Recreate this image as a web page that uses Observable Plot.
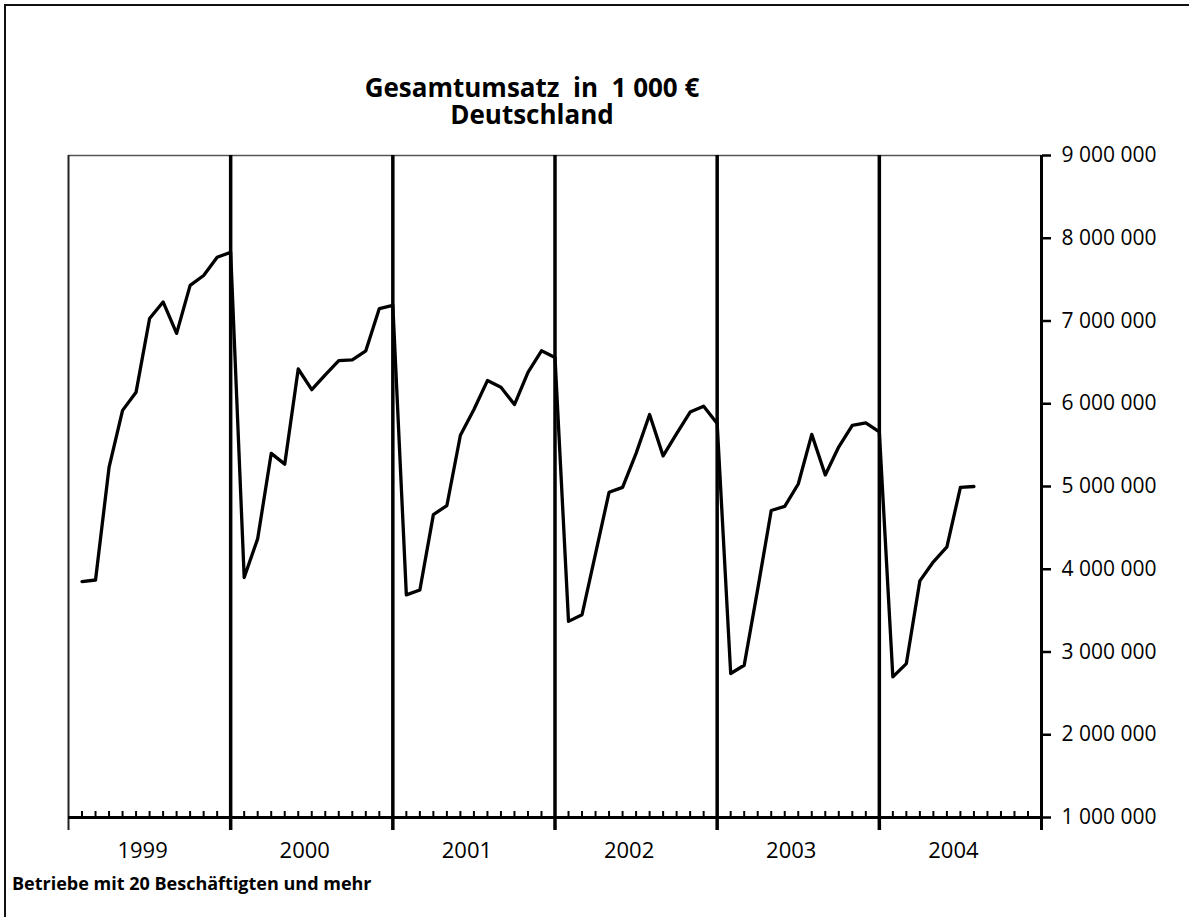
<!DOCTYPE html>
<html>
<head>
<meta charset="utf-8">
<script src="https://cdn.jsdelivr.net/npm/d3@7"></script>
<script src="https://cdn.jsdelivr.net/npm/@observablehq/plot@0.6"></script>
<style>
  body { margin: 0; background: #fff; }
  #wrap { position: relative; width: 1192px; height: 917px; overflow: hidden; font-family: "Open Sans", sans-serif; color: #000; }
  #frame { position: absolute; left: 4px; top: 4px; width: 1183px; height: 940px; border-left: 2px solid #111; border-top: 2px solid #111; }
  #title { position: absolute; left: 0; width: 1064px; top: 74px; text-align: center; font-weight: bold; font-size: 26px; line-height: 27px; white-space: pre; }
  #chart { position: absolute; left: 0; top: 140px; }
  #foot { position: absolute; left: 12px; top: 871px; font-weight: bold; font-size: 18px; line-height: 24px; }
</style>
</head>
<body>
<div id="wrap">
  <div id="frame"></div>
  <div id="title">Gesamtumsatz  in  1 000 €
Deutschland</div>
  <div id="chart"></div>
  <div id="foot">Betriebe mit 20 Beschäftigten und mehr</div>
</div>
<script>
// Gesamtumsatz in 1 000 € (monthly), Betriebe mit 20 Beschäftigten und mehr
const years = [1999, 2000, 2001, 2002, 2003, 2004];
const v1999 = [3850000, 3870000, 5230000, 5920000, 6140000, 7030000, 7230000, 6850000, 7430000, 7550000, 7770000, 7830000];
const v2000 = [3900000, 4370000, 5400000, 5270000, 6420000, 6170000, 6350000, 6520000, 6530000, 6640000, 7150000, 7190000];
const v2001 = [3690000, 3750000, 4660000, 4770000, 5620000, 5930000, 6280000, 6200000, 5990000, 6380000, 6640000, 6560000];
const v2002 = [3370000, 3450000, 4190000, 4930000, 4990000, 5400000, 5870000, 5370000, 5640000, 5900000, 5970000, 5760000];
const v2003 = [2740000, 2840000, 3760000, 4710000, 4760000, 5030000, 5630000, 5140000, 5480000, 5740000, 5770000, 5660000];
const v2004 = [2700000, 2860000, 3860000, 4090000, 4270000, 4990000, 5000000];
const yTicks = [1000000, 2000000, 3000000, 4000000, 5000000, 6000000, 7000000, 8000000, 9000000];

const series = [v1999, v2000, v2001, v2002, v2003, v2004];
const data = series.flatMap((vals, yi) => vals.map((v, mi) => ({ year: years[yi], month: mi + 1, m: yi * 12 + mi, v })));

const nMonths = years.length * 12;
const leftEdge = -1;
const rightEdge = nMonths - 1;
const dividers = years.slice(0, -1).map((_, i) => i * 12 + 11);
const minor = d3.range(0, nMonths - 1).filter(m => !dividers.includes(m));
const yearPos = years.map((y, i) => ({ year: String(y), m: i * 12 + 5 }));
const fmt = d => d3.format(",")(d).replace(/,/g, " ");

const chart = Plot.plot({
  width: 1192,
  height: 730,
  marginLeft: 68,
  marginRight: 151,
  marginTop: 15,
  marginBottom: 53,
  style: { fontFamily: "Open Sans, sans-serif", fontSize: "21px", background: "transparent", overflow: "visible", color: "#000" },
  x: { domain: [leftEdge, rightEdge], axis: null },
  y: { domain: [yTicks[0], yTicks[yTicks.length - 1]], axis: null },
  marks: [
    Plot.ruleY([yTicks[yTicks.length - 1]], { stroke: "#555", strokeWidth: 1.5 }),
    Plot.ruleX([leftEdge], { stroke: "#222", strokeWidth: 2, insetBottom: -13 }),
    Plot.ruleX(minor, { x: d => d, y1: yTicks[0], y2: yTicks[0], insetTop: -6, stroke: "#000", strokeWidth: 2 }),
    Plot.ruleX(dividers, { stroke: "#000", strokeWidth: 3.5, insetBottom: -13 }),
    Plot.ruleX([rightEdge], { stroke: "#000", strokeWidth: 3, insetBottom: -13 }),
    Plot.ruleY([yTicks[0]], { stroke: "#000", strokeWidth: 3 }),
    Plot.axisY({ anchor: "right", label: null, ticks: yTicks, tickSize: 9, tickPadding: 11, tickFormat: fmt, fontSize: 21, strokeWidth: 2.5, stroke: "#000", fill: "#000" }),
    Plot.text(yearPos, { x: "m", y: yTicks[0], text: "year", dy: 33, dx: -7, fontSize: 22, fill: "#000" }),
    Plot.line(data, { x: "m", y: "v", stroke: "#000", strokeWidth: 3.3, strokeLinejoin: "round" })
  ]
});
document.getElementById("chart").appendChild(chart);
</script>
</body>
</html>
